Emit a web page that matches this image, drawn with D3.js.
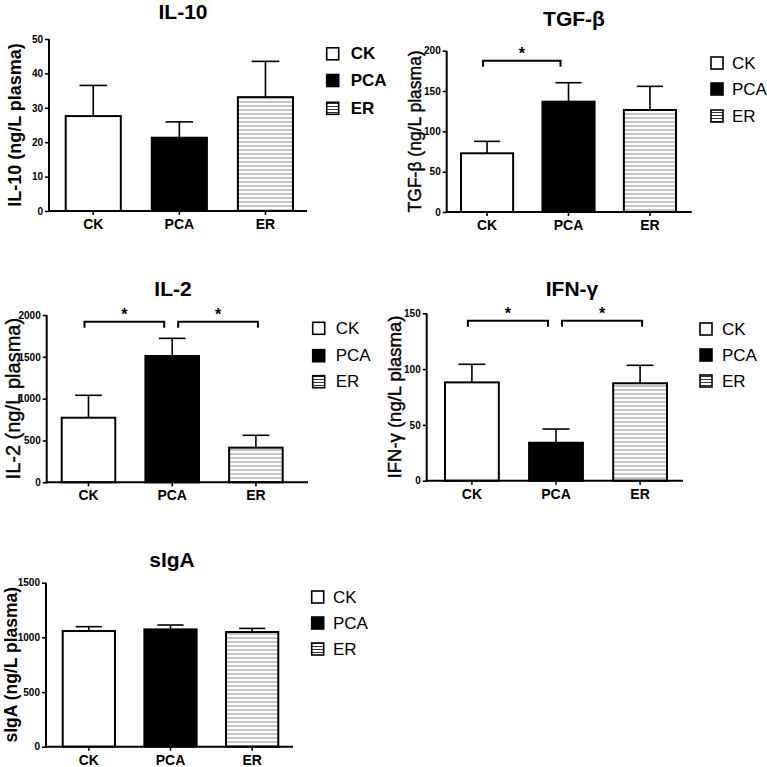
<!DOCTYPE html>
<html>
<head>
<meta charset="utf-8">
<script src="https://cdn.jsdelivr.net/npm/d3@7/dist/d3.min.js"></script>
<style>
html,body{margin:0;padding:0;background:#fff;}
svg{display:block;font-family:"Liberation Sans",Arial,sans-serif;}
</style>
</head>
<body>
<svg id="chart" width="767" height="767"></svg>
<script>
// ---------------- data ----------------
const groups = ["CK", "PCA", "ER"];

const il10Mean = [27.6, 21.3, 33.1];
const il10Sem  = [8.9, 4.6, 10.4];
const il10Ticks = [0, 10, 20, 30, 40, 50];

const tgfMean = [72.8, 136.8, 126.5];
const tgfSem  = [14.8, 23.5, 29.3];
const tgfTicks = [0, 50, 100, 150, 200];
const tgfSig = [[0, 1]];

const il2Mean = [772, 1510, 414];
const il2Sem  = [268, 211, 148];
const il2Ticks = [0, 500, 1000, 1500, 2000];
const il2Sig = [[0, 1], [1, 2]];

const ifnMean = [88.1, 34.0, 87.3];
const ifnSem  = [16.2, 12.3, 16.1];
const ifnTicks = [0, 50, 100, 150];
const ifnSig = [[0, 1], [1, 2]];

const sigaMean = [1058, 1073, 1049];
const sigaSem  = [40, 40, 33];
const sigaTicks = [0, 500, 1000, 1500];

// ---------------- layout ----------------
const panels = [
  {title: "IL-10", ylab: "IL-10 (ng/L plasma)", mean: il10Mean, sem: il10Sem, ticks: il10Ticks, sig: [],
   ax: 49, axEnd: 307, bx0: 65.7, bx1: 293, yTop: 39, yBot: 211, titleX: 183, titleY: 19,
   ylabX: 15, ylabSize: 18, ylabWeight: "bold",
   leg: {sx: 326.7, tx: 350.7, ys: [53.8, 80.5, 108.3], size: 17, weight: "bold"}},
  {title: "TGF-β", ylab: "TGF-β (ng/L plasma)", mean: tgfMean, sem: tgfSem, ticks: tgfTicks, sig: tgfSig, sigY: 187.6,
   ax: 446.7, axEnd: 691.7, bx0: 461, bx1: 676, yTop: 50.7, yBot: 212, titleX: 574, titleY: 26,
   ylabX: 415, ylabSize: 17.5, ylabWeight: "normal",
   leg: {sx: 711, tx: 732, ys: [63, 89, 116], size: 17, weight: "normal"}},
  {title: "IL-2", ylab: "IL-2 (ng/L plasma)", mean: il2Mean, sem: il2Sem, ticks: il2Ticks, sig: il2Sig, sigY: 1920,
   ax: 46.7, axEnd: 308, bx0: 61.7, bx1: 282.7, yTop: 315, yBot: 482.3, titleX: 173, titleY: 296,
   ylabX: 13, ylabSize: 20, ylabWeight: "normal",
   leg: {sx: 312.7, tx: 335.7, ys: [328.3, 355.7, 381.7], size: 17, weight: "normal"}},
  {title: "IFN-γ", ylab: "IFN-γ (ng/L plasma)", mean: ifnMean, sem: ifnSem, ticks: ifnTicks, sig: ifnSig, sigY: 143.4,
   ax: 426.7, axEnd: 683, bx0: 445, bx1: 667, yTop: 313.3, yBot: 480.7, titleX: 572, titleY: 296,
   ylabX: 394, ylabSize: 18.5, ylabWeight: "normal",
   leg: {sx: 700, tx: 722, ys: [329, 355, 381], size: 17, weight: "normal"}},
  {title: "sIgA", ylab: "sIgA (ng/L plasma)", mean: sigaMean, sem: sigaSem, ticks: sigaTicks, sig: [],
   ax: 46, axEnd: 293, bx0: 62.7, bx1: 278.3, yTop: 582.7, yBot: 746.7, titleX: 172, titleY: 567,
   ylabX: 11, ylabSize: 17.5, ylabWeight: "bold",
   leg: {sx: 311.7, tx: 333, ys: [597, 623, 649], size: 17, weight: "normal"}}
];

const svg = d3.select("#chart");
const defs = svg.append("defs");
const pat = defs.append("pattern").attr("id", "hatch").attr("patternUnits", "userSpaceOnUse")
  .attr("width", 8).attr("height", 4);
pat.append("rect").attr("width", 8).attr("height", 4).attr("fill", "#fff");
pat.append("line").attr("x1", 0).attr("x2", 8).attr("y1", 2).attr("y2", 2)
  .attr("stroke", "#8a8a8a").attr("stroke-width", 1);
const pat2 = defs.append("pattern").attr("id", "hatchLeg").attr("patternUnits", "userSpaceOnUse")
  .attr("width", 8).attr("height", 3);
pat2.append("rect").attr("width", 8).attr("height", 3).attr("fill", "#fff");
pat2.append("line").attr("x1", 0).attr("x2", 8).attr("y1", 1.5).attr("y2", 1.5)
  .attr("stroke", "#333").attr("stroke-width", 1);

const fills = {CK: "#fff", PCA: "#000", ER: "url(#hatch)"};
const legFills = {CK: "#fff", PCA: "#000", ER: "url(#hatchLeg)"};

panels.forEach(p => {
  const g = svg.append("g");
  const yMax = p.ticks[p.ticks.length - 1];
  const y = d3.scaleLinear().domain([0, yMax]).range([p.yBot, p.yTop]);
  const x = d3.scaleBand().domain(groups).range([p.bx0, p.bx1]).paddingInner(0.36).paddingOuter(0);
  const bw = x.bandwidth();

  // bars
  g.selectAll("rect.bar").data(groups).enter().append("rect")
    .attr("x", d => x(d)).attr("width", bw)
    .attr("y", (d, i) => y(p.mean[i])).attr("height", (d, i) => p.yBot - y(p.mean[i]))
    .attr("fill", d => fills[d]).attr("stroke", "#000").attr("stroke-width", 2);

  // error bars (upper)
  groups.forEach((d, i) => {
    const cx = x(d) + bw / 2;
    g.append("line").attr("x1", cx).attr("x2", cx)
      .attr("y1", y(p.mean[i])).attr("y2", y(p.mean[i] + p.sem[i]))
      .attr("stroke", "#000").attr("stroke-width", 1.6);
    g.append("line").attr("x1", cx - bw / 4).attr("x2", cx + bw / 4)
      .attr("y1", y(p.mean[i] + p.sem[i])).attr("y2", y(p.mean[i] + p.sem[i]))
      .attr("stroke", "#000").attr("stroke-width", 1.6);
  });

  // y axis
  const yAxis = d3.axisLeft(y).tickValues(p.ticks).tickSize(4).tickPadding(2).tickFormat(d3.format("d"));
  const ya = g.append("g").attr("transform", `translate(${p.ax},0)`).call(yAxis);
  ya.select(".domain").remove();
  ya.selectAll(".tick line").attr("stroke", "#000").attr("stroke-width", 1.6);
  ya.selectAll(".tick text").attr("font-size", 10).attr("font-weight", "bold").attr("fill", "#000")
    .attr("font-family", "Liberation Sans, Arial, sans-serif");
  g.append("line").attr("x1", p.ax).attr("x2", p.ax).attr("y1", p.yTop).attr("y2", p.yBot + 1)
    .attr("stroke", "#000").attr("stroke-width", 2);

  // x axis
  const xAxis = d3.axisBottom(x).tickSize(4).tickPadding(4);
  const xa = g.append("g").attr("transform", `translate(0,${p.yBot})`).call(xAxis);
  xa.select(".domain").remove();
  xa.selectAll(".tick line").attr("stroke", "#000").attr("stroke-width", 1.6);
  xa.selectAll(".tick text").attr("font-size", 14).attr("font-weight", "bold").attr("fill", "#000")
    .attr("font-family", "Liberation Sans, Arial, sans-serif");
  g.append("line").attr("x1", p.ax - 1).attr("x2", p.axEnd).attr("y1", p.yBot).attr("y2", p.yBot)
    .attr("stroke", "#000").attr("stroke-width", 2);

  // title
  g.append("text").attr("x", p.titleX).attr("y", p.titleY).attr("text-anchor", "middle")
    .attr("font-size", 21).attr("font-weight", "bold").text(p.title);

  // y label
  g.append("text").attr("transform", `translate(${p.ylabX},${(p.yTop + p.yBot) / 2}) rotate(-90)`)
    .attr("text-anchor", "middle").attr("dominant-baseline", "central")
    .attr("font-size", p.ylabSize).attr("font-weight", p.ylabWeight)
    .attr("stroke", p.ylabWeight === "normal" ? "#000" : "none").attr("stroke-width", 0.4)
    .text(p.ylab);

  // significance brackets
  p.sig.forEach(([a, b], k) => {
    const ca = x(groups[a]) + bw / 2, cb = x(groups[b]) + bw / 2;
    const xl = k === 0 ? ca - 4 : ca + 6;
    const xr = k === 0 ? cb - 8 : cb + 2;
    const yy = y(p.sigY);
    g.append("path").attr("d", `M${xl},${yy + 6}V${yy}H${xr}V${yy + 6}`)
      .attr("fill", "none").attr("stroke", "#000").attr("stroke-width", 2);
    g.append("text").attr("x", (xl + xr) / 2).attr("y", yy - 2).attr("text-anchor", "middle")
      .attr("font-size", 16).attr("font-weight", "bold").text("*");
  });

  // legend
  groups.forEach((d, i) => {
    const cy = p.leg.ys[i];
    g.append("rect").attr("x", p.leg.sx).attr("y", cy - 6).attr("width", 12).attr("height", 12)
      .attr("fill", legFills[d]).attr("stroke", "#000").attr("stroke-width", 1.6);
    g.append("text").attr("x", p.leg.tx).attr("y", cy).attr("dominant-baseline", "central")
      .attr("font-size", p.leg.size).attr("font-weight", p.leg.weight).text(d);
  });
});
</script>
</body>
</html>
